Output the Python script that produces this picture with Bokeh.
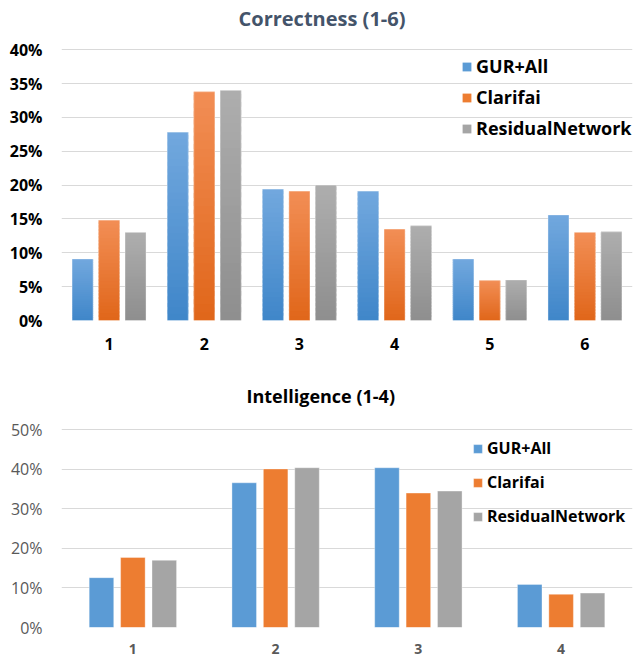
from bokeh.plotting import figure
from bokeh.models import (Range1d, Legend, LegendItem, ColumnDataSource, FixedTicker,
                          PrintfTickFormatter, Title)
from bokeh.layouts import column
from bokeh.embed import file_html
from bokeh.resources import INLINE

series_names = ["GUR+All", "Clarifai", "ResidualNetwork"]

# Correctness (1-6), percent
corr_title = "Correctness (1-6)"
corr_cats = ["1", "2", "3", "4", "5", "6"]
corr_gur = [9.1, 27.8, 19.4, 19.1, 9.1, 15.6]
corr_clar = [14.8, 33.8, 19.1, 13.5, 5.9, 13.0]
corr_res = [13.0, 34.0, 20.0, 14.0, 6.0, 13.1]

# Intelligence (1-4), percent
intel_title = "Intelligence (1-4)"
intel_cats = ["1", "2", "3", "4"]
intel_gur = [12.6, 36.6, 40.4, 10.9]
intel_clar = [17.7, 40.1, 34.0, 8.4]
intel_res = [17.0, 40.4, 34.5, 8.7]

solid = ["#5B9BD5", "#ED7D31", "#A5A5A5"]
grad_top = ["#72A8DE", "#F28E55", "#AEAEAE"]
grad_bot = ["#3F86C9", "#E0661A", "#8E8E8E"]
FONT = "Open Sans"


def hex2rgb(h):
    h = h.lstrip("#")
    return tuple(int(h[i:i + 2], 16) for i in (0, 2, 4))


def mix(c1, c2, t):
    a, b = hex2rgb(c1), hex2rgb(c2)
    return "#%02x%02x%02x" % tuple(round(a[i] + (b[i] - a[i]) * t) for i in range(3))


def style_common(p, cats, yticks, bold_y, ycolor, ysize, xcolor, xsize, xstand, ystand):
    p.outline_line_color = None
    p.xgrid.grid_line_color = None
    p.ygrid.grid_line_color = "#D9D9D9"
    p.ygrid.grid_line_width = 1
    p.ygrid.ticker = FixedTicker(ticks=yticks)
    p.yaxis.ticker = FixedTicker(ticks=yticks)
    p.yaxis.formatter = PrintfTickFormatter(format="%d%%")
    p.xaxis.ticker = FixedTicker(ticks=list(range(1, len(cats) + 1)))
    p.xaxis.major_label_overrides = {i + 1: c for i, c in enumerate(cats)}
    for ax in (p.xaxis, p.yaxis):
        ax.axis_line_color = None
        ax.major_tick_line_color = None
        ax.minor_tick_line_color = None
        ax.major_label_text_font = FONT
    p.yaxis.major_label_text_font_style = "bold" if bold_y else "normal"
    p.yaxis.major_label_text_color = ycolor
    p.yaxis.major_label_text_font_size = ysize
    p.yaxis.major_label_standoff = ystand
    p.xaxis.major_label_text_font_style = "bold"
    p.xaxis.major_label_text_color = xcolor
    p.xaxis.major_label_text_font_size = xsize
    p.xaxis.major_label_standoff = xstand


# ---------------- top chart ----------------
p1 = figure(width=635, height=360, output_backend="svg", toolbar_location=None,
            x_range=Range1d(0.5, 6.5), y_range=Range1d(0, 40.19),
            min_border_left=61, min_border_right=3, min_border_top=48, min_border_bottom=40)
# spacer panel between the title and the plot area (added first = closest to the frame)
p1.add_layout(Title(text=" ", text_font_size="8px", standoff=6), "above")
p1.add_layout(Title(text=corr_title, align="left", offset=177, vertical_align="bottom",
                    standoff=0, text_font=FONT, text_font_size="20px",
                    text_font_style="bold", text_color="#44546A"), "above")
style_common(p1, corr_cats, [0, 5, 10, 15, 20, 25, 30, 35, 40], True, "#000000", "16px",
             "#000000", "16px", 11, 13)

top_series = [corr_gur, corr_clar, corr_res]
offs1 = [-0.278, 0.0, 0.278]
bw1 = 0.22
N = 28

items1 = []
for s, vals in enumerate(top_series):
    r = p1.vbar(x=[i + 1 + offs1[s] for i in range(len(vals))], width=bw1, top=vals, bottom=0,
                fill_color=solid[s], line_color=None)
    items1.append(LegendItem(label=series_names[s], renderers=[r]))

xs, bots, tops, cols = [], [], [], []
for s, vals in enumerate(top_series):
    for i, v in enumerate(vals):
        for k in range(N):
            xs.append(i + 1 + offs1[s])
            bots.append(v * k / N)
            tops.append(min(v, v * (k + 1.6) / N))
            cols.append(mix(grad_bot[s], grad_top[s], (k + 0.5) / N))
p1.vbar(x="x", width=bw1, bottom="b", top="t", fill_color="c", line_color=None,
        source=ColumnDataSource(dict(x=xs, b=bots, t=tops, c=cols)))
ex, et = [], []
for s, vals in enumerate(top_series):
    for i, v in enumerate(vals):
        ex.append(i + 1 + offs1[s]); et.append(v)
p1.vbar(x=ex, width=bw1, top=et, bottom=0, fill_color=None, line_color="#ffffff",
        line_alpha=0.35, line_width=1)

leg1 = Legend(items=items1, location=(400, 180), padding=0, margin=0, spacing=7,
              glyph_width=11, glyph_height=11, label_height=20, label_standoff=4,
              border_line_color=None, background_fill_alpha=0,
              label_text_font=FONT, label_text_font_style="bold",
              label_text_font_size="18px", label_text_color="#000000")
p1.add_layout(leg1, "center")

# ---------------- bottom chart ----------------
p2 = figure(width=635, height=298, output_backend="svg", toolbar_location=None,
            x_range=Range1d(0.5, 4.5), y_range=Range1d(0, 50.33),
            min_border_left=61, min_border_right=3, min_border_top=68, min_border_bottom=31)
p2.title.text = intel_title
p2.title.align = "left"
p2.title.offset = 185
p2.title.vertical_align = "bottom"
p2.title.standoff = 41
p2.title.text_font = FONT
p2.title.text_font_size = "18px"
p2.title.text_font_style = "bold"
p2.title.text_color = "#000000"
style_common(p2, intel_cats, [0, 10, 20, 30, 40, 50], False, "#595959", "16px",
             "#595959", "14px", 10, 13)

bot_series = [intel_gur, intel_clar, intel_res]
offs2 = [-0.22, 0.0, 0.22]
bw2 = 0.172
items2 = []
for s, vals in enumerate(bot_series):
    r = p2.vbar(x=[i + 1 + offs2[s] for i in range(len(vals))], width=bw2, top=vals, bottom=0,
                fill_color=solid[s], line_color="#ffffff", line_alpha=0.35, line_width=1)
    items2.append(LegendItem(label=series_names[s], renderers=[r]))
leg2 = Legend(items=items2, location=(411, 100), padding=0, margin=0, spacing=12,
              glyph_width=11, glyph_height=11, label_height=20, label_standoff=4,
              border_line_color=None, background_fill_alpha=0,
              label_text_font=FONT, label_text_font_style="bold",
              label_text_font_size="16px", label_text_color="#000000")
p2.add_layout(leg2, "center")

layout = column(p1, p2, spacing=0)
open("out.html", "w").write(file_html(layout, INLINE))
